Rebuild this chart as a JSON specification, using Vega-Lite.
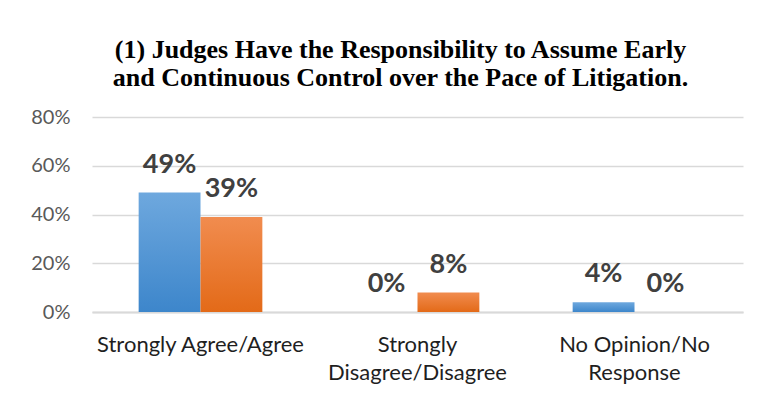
{
  "$schema": "https://vega.github.io/schema/vega-lite/v6.json",
  "width": 651,
  "height": 195,
  "autosize": {"type": "none"},
  "padding": {"left": 92, "top": 117, "right": 17, "bottom": 88},
  "background": "white",
  "config": {"view": {"stroke": null}},
  "title": {
    "text": ["(1) Judges Have the Responsibility to Assume Early", "and Continuous Control over the Pace of Litigation."],
    "font": "Liberation Serif",
    "fontSize": 26,
    "fontWeight": "bold",
    "color": "#000000",
    "lineHeight": 28,
    "anchor": "middle",
    "dx": -17,
    "offset": 16
  },
  "data": {
    "values": [
      {"response": "Strongly Agree/Agree", "series": "Series 1", "share": 0.49},
      {"response": "Strongly Agree/Agree", "series": "Series 2", "share": 0.39},
      {"response": "Strongly Disagree/Disagree", "series": "Series 1", "share": 0.0},
      {"response": "Strongly Disagree/Disagree", "series": "Series 2", "share": 0.08},
      {"response": "No Opinion/No Response", "series": "Series 1", "share": 0.04},
      {"response": "No Opinion/No Response", "series": "Series 2", "share": 0.0}
    ]
  },
  "encoding": {
    "x": {
      "field": "response",
      "type": "nominal",
      "sort": null,
      "scale": {"paddingInner": 0.43, "paddingOuter": 0.215},
      "axis": {
        "title": null,
        "labelAngle": 0,
        "domain": true,
        "domainColor": "#d9d9d9",
        "domainWidth": 2,
        "ticks": false,
        "labelPadding": 22,
        "labelFont": "Lato",
        "labelFontSize": 22,
        "labelColor": "#1f1f1f",
        "labelLineHeight": 28,
        "labelLimit": 400,
        "labelBaseline": "top",
        "labelExpr": "datum.label == 'Strongly Disagree/Disagree' ? ['Strongly', 'Disagree/Disagree'] : datum.label == 'No Opinion/No Response' ? ['No Opinion/No', 'Response'] : datum.label"
      }
    },
    "xOffset": {"field": "series", "type": "nominal", "sort": null},
    "y": {
      "field": "share",
      "type": "quantitative",
      "scale": {"domain": [0, 0.8]},
      "axis": {
        "title": null,
        "values": [0, 0.2, 0.4, 0.6, 0.8],
        "format": ".0%",
        "domain": false,
        "ticks": false,
        "labelPadding": 22,
        "labelFont": "Lato",
        "labelFontSize": 20,
        "labelColor": "#595959",
        "gridColor": "#d9d9d9",
        "gridWidth": 1.5
      }
    }
  },
  "layer": [
    {
      "mark": {"type": "bar"},
      "encoding": {
        "fill": {
          "condition": {
            "test": "datum.series == 'Series 1'",
            "value": {
              "gradient": "linear", "x1": 0, "y1": 0, "x2": 0, "y2": 1,
              "stops": [{"offset": 0, "color": "#6EA8DE"}, {"offset": 1, "color": "#3D86CB"}]
            }
          },
          "value": {
            "gradient": "linear", "x1": 0, "y1": 0, "x2": 0, "y2": 1,
            "stops": [{"offset": 0, "color": "#F18C4F"}, {"offset": 1, "color": "#E36A18"}]
          }
        }
      }
    },
    {
      "mark": {
        "type": "text",
        "font": "Lato",
        "fontSize": 27,
        "fontWeight": "bold",
        "color": "#404040",
        "baseline": "alphabetic",
        "dy": -20
      },
      "encoding": {
        "text": {"field": "share", "type": "quantitative", "format": ".0%"}
      }
    }
  ]
}
